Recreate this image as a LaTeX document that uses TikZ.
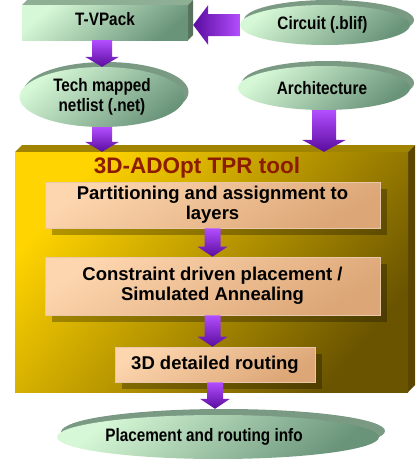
\documentclass[tikz,border=0pt]{standalone}
\usepackage{fontspec}
\setmainfont{Liberation Sans}
\newfontfamily\condfont{Liberation Sans}[FakeStretch=0.85]
\usetikzlibrary{shapes.geometric,shadows,calc}
\definecolor{gLight}{HTML}{D6F8D6}
\definecolor{gDark}{HTML}{6A947A}
\definecolor{gBack}{HTML}{7A9A84}
\definecolor{tvTop}{HTML}{8FAF94}
\definecolor{tvSide}{HTML}{56725C}
\definecolor{goldL}{HTML}{FFD400}
\definecolor{goldD}{HTML}{6A5400}
\definecolor{goldTop}{HTML}{A08400}
\definecolor{goldSide}{HTML}{5A4600}
\definecolor{peachL}{HTML}{FDD5AE}
\definecolor{peachD}{HTML}{DCA676}
\definecolor{peachEdge}{HTML}{E8C8A8}
\definecolor{purL}{HTML}{B24EFF}
\definecolor{purD}{HTML}{5A0C9E}
\definecolor{titleRed}{HTML}{8C1C00}
\newcommand\vblock[5]{%
  \path[arrowshade] let \p1=(#1), \p2=(#2) in
    (\x1-#3pt,\y1) -- (\x1+#3pt,\y1) -- (\x1+#3pt,\y2+#5pt) -- (\x1+#4pt,\y2+#5pt)
    -- (\x1,\y2) -- (\x1-#4pt,\y2+#5pt) -- (\x1-#3pt,\y2+#5pt) -- cycle;}
\newcommand\hblock[5]{%
  \path[harrowshade] let \p1=(#1), \p2=(#2) in
    (\x1,\y1-#3pt) -- (\x1,\y1+#3pt) -- (\x2+#5pt,\y1+#3pt) -- (\x2+#5pt,\y1+#4pt)
    -- (\x2,\y1) -- (\x2+#5pt,\y1-#4pt) -- (\x2+#5pt,\y1-#3pt) -- cycle;}
\begin{document}
\begin{tikzpicture}[x=1pt,y=-1pt,
  ell/.style={ellipse, inner sep=0pt, shading=axis, top color=gLight, bottom color=gDark,
    shading angle=40, copy shadow={shadow xshift=4pt, shadow yshift=5pt, fill=gBack, draw=none},
    font=\condfont\bfseries\fontsize{18}{19.5}\selectfont, align=center},
  tvbox/.style={rectangle, inner sep=0pt, shading=axis, top color=gLight, bottom color=gDark,
    shading angle=40, font=\condfont\bfseries\fontsize{18}{19.5}\selectfont},
  goldbox/.style={rectangle, inner sep=0pt, shading=axis, top color=goldL, bottom color=goldD,
    shading angle=50},
  inbox/.style={rectangle, inner sep=0pt, shading=axis, top color=peachL, bottom color=peachD,
    shading angle=30, draw=peachEdge, line width=0.6pt,
    drop shadow={shadow xshift=7pt, shadow yshift=-7pt, fill=black, opacity=0.28},
    font=\bfseries\fontsize{18.5}{20}\selectfont, align=center},
  titletext/.style={font=\bfseries\fontsize{22.5}{24}\selectfont, text=titleRed, inner sep=0pt},
  arrowshade/.style={shading=axis, top color=purL, bottom color=purD},
  harrowshade/.style={shading=axis, left color=purD, right color=purL}]
\useasboundingbox (0,0) rectangle (416,459);
% T-VPack block
\fill[tvTop] (22,5) -- (27,0) -- (193,0) -- (188,5) -- cycle;
\fill[tvSide] (188,5) -- (193,0) -- (193,35) -- (188,40) -- cycle;
\node[tvbox, minimum width=166pt, minimum height=35pt, text depth=7pt] (tv) at (105,22.5) {T-VPack};
% ellipses
\node[ell, minimum width=170pt, minimum height=40pt] (circ) at (325,25) {Circuit (.blif)\hspace{5pt}};
\node[ell, minimum width=165pt, minimum height=60pt] (tech) at (102,97) {Tech mapped\\netlist (.net)};
\node[ell, minimum width=172pt, minimum height=44pt] (arch) at (324,88) {Architecture\hspace{4pt}};
% gold tool box
\fill[goldTop] (15,152) -- (22,145) -- (415,145) -- (408,152) -- cycle;
\fill[goldSide] (408,152) -- (415,145) -- (415,385) -- (408,392) -- cycle;
\node[goldbox, minimum width=393pt, minimum height=240pt] (gold) at (211.5,272) {};
\node[titletext] (title) at (197,168) {3D-ADOpt TPR tool};
\node[inbox, minimum width=335pt, minimum height=46pt] (b1) at (212.5,205) {Partitioning and assignment to\\layers};
\node[inbox, minimum width=335pt, minimum height=58pt] (b2) at (212.5,286) {Constraint driven placement /\\Simulated Annealing};
\node[inbox, minimum width=200pt, minimum height=35pt] (b3) at (215,364.5) {3D detailed routing};
% output ellipse
\node[ell, minimum width=322pt, minimum height=44pt, copy shadow={shadow xshift=6pt, shadow yshift=6pt, fill=gBack, draw=none}] (place) at (218,437) {Placement and routing info\hspace{28pt}};
% arrows
\coordinate (ctip) at ($(tv.east |- circ.west)+(5,0)$);
\hblock{circ.west}{ctip}{11}{20}{15}
\vblock{tech.north |- tv.south}{tech.north}{10}{17}{10}
\vblock{tech.south}{tech.south |- gold.north}{10}{17}{10}
\vblock{arch.south}{arch.south |- gold.north}{12}{22}{12}
\vblock{b1.south}{b1.south |- b2.north}{8}{15}{10}
\vblock{b2.south}{b2.south |- b3.north}{8}{15}{10}
\coordinate (ptip) at ($(b3.south |- place.north)+(0,-6)$);
\vblock{b3.south}{ptip}{8}{15}{10}
\end{tikzpicture}
\end{document}
